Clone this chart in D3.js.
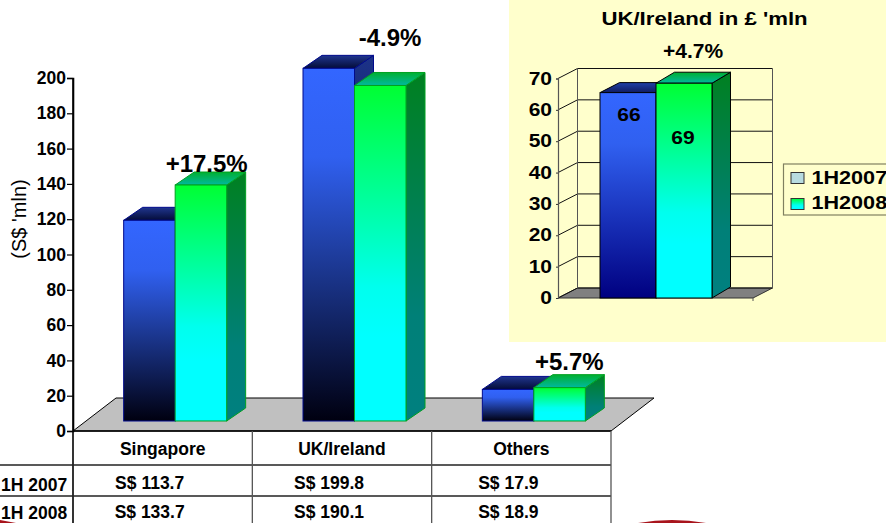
<!DOCTYPE html>
<html><head><meta charset="utf-8"><script src="https://cdnjs.cloudflare.com/ajax/libs/d3/7.8.5/d3.min.js"></script>
<style>html,body{margin:0;padding:0;background:#fff}svg{display:block}text{font-family:"Liberation Sans",Arial,sans-serif;font-weight:bold;fill:#000}</style></head>
<body><svg id="c" width="886" height="523"></svg>
<script>
const categories=["Singapore","UK/Ireland","Others"];
const values2007=[113.7,199.8,17.9];
const values2008=[133.7,190.1,18.9];
const changes=["+17.5%","-4.9%","+5.7%"];
const changeOffsets=[[44,-23],[48,-32],[48,-27.6]];
const rowLabels=["1H 2007","1H 2008"];
const mainTicks=[0,20,40,60,80,100,120,140,160,180,200];
const insetValues=[65.5,68.5];
const insetChange="+4.7%";
const insetTitle="UK/Ireland in £ 'mln";
const insetTicks=[0,10,20,30,40,50,60,70];
const legendLabels=["1H2007","1H2008"];

const svg=d3.select("#c");
const defs=svg.append("defs");
function grad(id,stops){const g=defs.append("linearGradient").attr("id",id).attr("x1",0).attr("y1",0).attr("x2",0).attr("y2",1);
 stops.forEach(s=>g.append("stop").attr("offset",s[0]).attr("stop-color",s[1]));}
grad("bf",[[0,"#3366ff"],[0.25,"#3060f0"],[1,"#000010"]]);
grad("bt",[[0,"#20368f"],[1,"#040c38"]]);
grad("bs",[[0,"#1c3288"],[1,"#04082c"]]);
grad("gf",[[0,"#00ff33"],[0.6,"#00ffee"],[0.75,"#00ffff"],[1,"#00ffff"]]);
grad("gt",[[0,"#00b030"],[1,"#00b8a0"]]);
grad("gs",[[0,"#008020"],[0.7,"#008078"],[1,"#008080"]]);
grad("ibf",[[0,"#3366ff"],[0.25,"#3060f0"],[1,"#000080"]]);
grad("ibt",[[0,"#2040a8"],[1,"#101c60"]]);

const poly=(pts)=>"M"+pts.map(p=>p.join(",")).join("L")+"Z";

function bar3d(g,x0,x1,yTop,yBase,dx,dy,fills,stroke,sw){
 g.append("path").attr("d",poly([[x1,yTop],[x1+dx,yTop+dy],[x1+dx,yBase+dy],[x1,yBase]])).attr("fill",fills[2]).attr("stroke",stroke).attr("stroke-width",sw);
 g.append("path").attr("d",poly([[x0,yTop],[x0+dx,yTop+dy],[x1+dx,yTop+dy],[x1,yTop]])).attr("fill",fills[1]).attr("stroke",stroke).attr("stroke-width",sw);
 g.append("rect").attr("x",x0).attr("y",yTop).attr("width",x1-x0).attr("height",yBase-yTop).attr("fill",fills[0]).attr("stroke",stroke).attr("stroke-width",sw);
}

/* ---- main chart ---- */
const x=d3.scaleBand().domain(categories).range([73,611]);
const y=d3.scaleLinear().domain([0,200]).range([431,78]);
const barW=51.5,shift=12.5,baseLift=10,depthX=19,depthY=-13;
const floorH=33,floorDX=43;
const main=svg.append("g");
main.append("path").attr("d",poly([[x.range()[0],y(0)],[x.range()[1],y(0)],[x.range()[1]+floorDX,y(0)-floorH],[x.range()[0]+floorDX,y(0)-floorH]])).attr("fill","#c0c0c0").attr("stroke","#000").attr("stroke-width",1);

categories.forEach((c,i)=>{
 const cx=x(c)+x.bandwidth()/2+shift;
 const g=main.append("g");
 bar3d(g,cx-barW,cx,y(values2007[i])-baseLift,y(0)-baseLift,depthX,depthY,["url(#bf)","url(#bt)","url(#bs)"],"#000a8c",1);
 bar3d(g,cx,cx+barW,y(values2008[i])-baseLift,y(0)-baseLift,depthX,depthY,["url(#gf)","url(#gt)","url(#gs)"],"#00a020",1);
});

const yAxis=d3.axisLeft(y).tickValues(mainTicks).tickSize(6).tickPadding(1);
const ya=main.append("g").attr("transform","translate(73,0)").call(yAxis);
ya.select(".domain").attr("stroke","#000").attr("stroke-width",1.6);
ya.selectAll("line").attr("stroke","#000").attr("stroke-width",1.2);
ya.selectAll("text").attr("font-size",17.5).style("font-family",'"Liberation Sans",Arial,sans-serif');
main.append("text").attr("transform","translate(26,219) rotate(-90)").attr("text-anchor","middle").attr("font-size",20).style("font-weight","normal").text("(S$ 'mln)");

categories.forEach((c,i)=>{
 main.append("text").attr("x",x(c)+x.bandwidth()/2+changeOffsets[i][0]).attr("y",y(Math.max(values2007[i],values2008[i]))+changeOffsets[i][1]).attr("text-anchor","middle").attr("font-size",24).text(changes[i]);
});

/* table */
const tbl=main.append("g");
tbl.append("line").attr("x1",73).attr("x2",73).attr("y1",y(200)).attr("y2",523).attr("stroke","#000").attr("stroke-width",1.6);
tbl.append("line").attr("x1",73).attr("x2",611).attr("y1",431).attr("y2",431).attr("stroke","#000").attr("stroke-width",1.6);
[465,496].forEach(v=>tbl.append("line").attr("x1",0).attr("x2",611).attr("y1",v).attr("y2",v).attr("stroke","#222").attr("stroke-width",1.3));
categories.forEach((c,i)=>{const vx=x(c)+x.bandwidth();tbl.append("line").attr("x1",vx).attr("x2",vx).attr("y1",431).attr("y2",523).attr("stroke","#555").attr("stroke-width",1.3);});
categories.forEach((c,i)=>{
 const cx=x(c)+x.bandwidth()/2;
 tbl.append("text").attr("x",cx).attr("y",455).attr("text-anchor","middle").attr("font-size",17.5).text(c);
 tbl.append("text").attr("x",cx-13).attr("y",489).attr("text-anchor","middle").attr("font-size",17.5).text("S$ "+values2007[i].toFixed(1));
 tbl.append("text").attr("x",cx-13).attr("y",517.5).attr("text-anchor","middle").attr("font-size",17.5).text("S$ "+values2008[i].toFixed(1));
});
rowLabels.forEach((t,i)=>tbl.append("text").attr("x",1).attr("y",[490.5,519][i]).attr("font-size",17.5).text(t));

/* ---- inset ---- */
const inset=svg.append("g");
inset.append("rect").attr("x",509).attr("y",0).attr("width",377).attr("height",342).attr("fill","#ffffcc");
const iy=d3.scaleLinear().domain([0,70]).range([298,78.5]);
const ix=d3.scaleLinear().domain([0,1]).range([558,753]);
const idx=19.5,idy=-10;
const wall=inset.append("g");
wall.append("path").attr("d",poly([[ix(0),iy(0)],[ix(1),iy(0)],[ix(1)+idx,iy(0)+idy],[ix(0)+idx,iy(0)+idy]])).attr("fill","#808080").attr("stroke","#333");
insetTicks.forEach(t=>{
 wall.append("path").attr("d",`M${ix(0)},${iy(t)}L${ix(0)+idx},${iy(t)+idy}L${ix(1)+idx},${iy(t)+idy}`).attr("fill","none").attr("stroke","#111").attr("stroke-width",1);
});
wall.append("path").attr("d",`M${ix(0)+idx},${iy(70)+idy}V${iy(0)+idy}M${ix(1)+idx},${iy(70)+idy}V${iy(0)+idy}`).attr("stroke","#555").attr("fill","none");
wall.append("line").attr("x1",ix(1)).attr("x2",ix(1)).attr("y1",iy(0)).attr("y2",iy(0)+3).attr("stroke","#555");
const ibW=56,icx=656;
const ib=inset.append("g");
bar3d(ib,icx-ibW,icx,iy(insetValues[0]),iy(0),idx,idy,["url(#ibf)","url(#ibt)","#1c3288"],"#000",1);
bar3d(ib,icx,icx+ibW,iy(insetValues[1]),iy(0),idx-1,idy-1,["url(#gf)","url(#gt)","url(#gs)"],"#000",1);
const ia=inset.append("g").attr("transform","translate(558,0)").call(d3.axisLeft(iy).tickValues(insetTicks).tickSize(2).tickPadding(0));
ia.select(".domain").attr("stroke","#555").attr("stroke-width",1.2);
ia.selectAll("line").attr("stroke","#333");
ia.selectAll("text").remove();
const wide=(g,tx,ty,str,size,anchor,sx)=>g.append("text").attr("transform",`translate(${tx},${ty}) scale(${sx},1)`).attr("text-anchor",anchor).attr("font-size",size).text(str);
insetTicks.forEach(t=>wide(inset,552,iy(t)+6,t,17.5,"end",1.2));
wide(inset,704.5,25,insetTitle,18.5,"middle",1.2);
wide(inset,693,58,insetChange,20,"middle",1.05);
wide(inset,629,121,Math.round(insetValues[0]),17.5,"middle",1.2);
wide(inset,683,144,Math.round(insetValues[1]),17.5,"middle",1.2);

/* legend */
const leg=inset.append("g");
leg.append("rect").attr("x",783.5).attr("y",164).attr("width",104).attr("height",51).attr("fill","#ffffcc").attr("stroke","#808060").attr("stroke-width",1.2);
const swatch=["#b8dce0","url(#gf)"];
legendLabels.forEach((t,i)=>{
 leg.append("rect").attr("x",791).attr("y",172.5+i*26).attr("width",13).attr("height",11).attr("fill",swatch[i]).attr("stroke","#333");
 wide(leg,811.5,184+i*25,t,18,"start",1.2);
});

/* stray red arcs at the bottom edge of the photographed slide */
svg.append("path").attr("d","M638,523Q672,517 706,523Z").attr("fill","#a8141c");
svg.append("path").attr("d","M0,523L16,523L0,520Z").attr("fill","#a8141c");
</script></body></html>
